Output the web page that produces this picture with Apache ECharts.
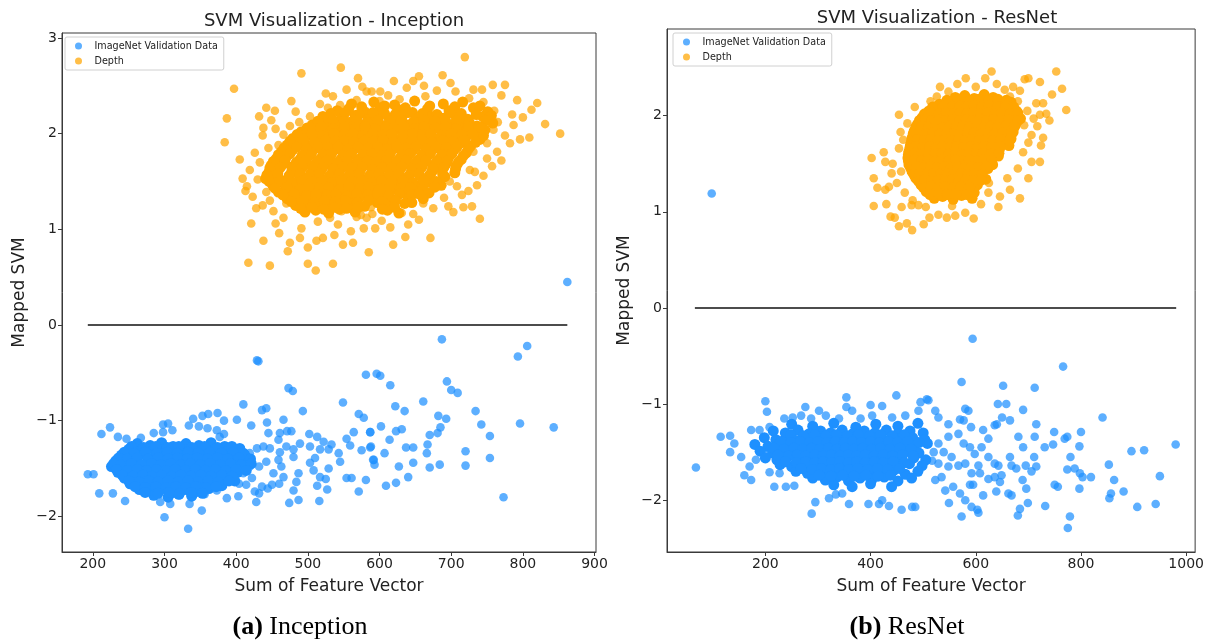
<!DOCTYPE html>
<html>
<head>
<meta charset="utf-8">
<script src="https://cdn.jsdelivr.net/npm/echarts@6/dist/echarts.min.js"></script>
<style>
  html, body { margin: 0; padding: 0; background: #fff; }
  #chart { width: 1207px; height: 642px; }
</style>
</head>
<body>
<div id="chart"></div>
<script>
// ---- Inception: sum of feature vector vs mapped SVM score ----
const inceptionDepthSparse = [
  [397,2.47],[387,2.16],[384,1.91],[491,2.63],[546,2.69],[719,2.80],[831,2.10],[852,2.00],[809,1.96],[796,1.94],
  [787,2.09],[792,2.35],[775,2.51],[758,2.51],[743,2.46],[731,2.46],[699,2.53],[688,2.61],[655,2.60],[647,2.55],
  [638,2.48],[612,2.40],[601,2.44],[589,2.44],[582,2.44],[576,2.49],[568,2.35],[554,2.46],[535,2.39],[525,2.42],
  [528,2.27],[503,2.18],[483,2.23],[454,2.24],[442,2.27],[432,2.18],[449,2.14],[438,2.06],[466,1.99],[475,2.08],
  [488,2.12],[759,2.04],[782,1.90],[750,1.90],[764,1.81],[750,1.74],[731,1.81],[726,1.62],[733,1.60],[736,1.46],
  [724,1.40],[740,1.11],[717,1.23],[729,1.24],[703,1.18],[696,1.24],[708,1.45],[698,1.50],[675,1.22],[671,0.91],
  [636,0.92],[619,0.84],[631,1.17],[647,1.16],[661,1.27],[610,1.29],[603,1.09],[594,1.01],[578,1.01],[585,0.76],
  [563,0.86],[549,0.84],[535,0.64],[521,0.91],[512,0.88],[500,0.81],[511,0.57],[500,0.64],[472,0.77],[475,0.86],
  [489,0.91],[491,1.01],[447,0.62],[417,0.65],[438,0.88],[421,1.06],[428,1.22],[423,1.34],[409,1.53],[419,1.62],
  [433,1.70],[442,1.39],[459,1.88],[482,1.88],[514,1.08],[542,1.05],[568,1.13],[466,1.12],[452,1.19],[470,1.27],
  [493,1.19],[531,1.12],[547,1.19],[572,1.24],[580,1.27],[588,1.23],[590,1.16],[582,1.12],[574,1.15],
  [415,1.45],[430,1.52],[437,1.25],[447,1.30],[426,1.80],[445,1.85],[437,1.98],[455,2.05],[462,1.67],[770,2.40],
  [760,2.24],[745,2.33],[725,2.37],[706,2.44],[680,2.45],[664,2.39],[628,2.36],[620,2.55],[662,2.50],[600,2.34],
  [545,2.30],[570,2.58],[517,2.31],[477,2.34],[405,1.73],[413,1.40],[460,0.96],[455,1.06],[537,0.94],[560,0.98],
  [615,1.02],[640,1.05],[655,1.10],[690,1.33],[715,1.36],[745,1.56],[757,1.66],[775,1.98],[800,2.17],[812,2.25],
  [820,2.32],[765,2.12],[785,2.20],[770,1.72],[742,1.97]
];
const inceptionDepthDense = [
  [561,2.31],[592,2.33],[621,2.30],[649,2.34],[689,2.31],[716,2.33],
  [541,2.24],[557,2.26],[579,2.23],[601,2.27],[627,2.25],[646,2.22],[667,2.26],[697,2.24],[731,2.27],[751,2.23],
  [521,2.18],[547,2.16],[566,2.19],[584,2.15],[598,2.18],[613,2.16],[632,2.19],[651,2.15],[671,2.18],[689,2.16],[706,2.19],[723,2.15],[744,2.18],
  [506,2.09],[527,2.11],[542,2.08],[559,2.12],[576,2.09],[591,2.11],[605,2.08],[623,2.12],[639,2.09],[656,2.11],[669,2.08],[685,2.12],[699,2.09],[714,2.11],[736,2.08],[758,2.11],
  [491,2.02],[513,2.04],[529,2.01],[546,2.05],[558,2.02],[572,2.04],[584,2.01],[600,2.05],[612,2.02],[629,2.04],[642,2.01],[655,2.05],[672,2.02],[686,2.04],[701,2.01],[717,2.05],[733,2.02],[747,2.04],
  [479,1.95],[497,1.97],[516,1.94],[528,1.98],[544,1.95],[555,1.97],[570,1.94],[582,1.98],[598,1.95],[609,1.97],[625,1.94],[636,1.98],[652,1.95],[663,1.97],[679,1.94],[692,1.98],[709,1.95],[721,1.97],[740,1.94],
  [471,1.88],[489,1.90],[502,1.87],[521,1.91],[532,1.88],[548,1.90],[559,1.87],[575,1.91],[587,1.88],[602,1.90],[613,1.87],[629,1.91],[640,1.88],[656,1.90],[668,1.87],[684,1.91],[696,1.88],[713,1.90],[727,1.87],
  [463,1.81],[479,1.83],[496,1.80],[509,1.84],[525,1.81],[537,1.83],[553,1.80],[565,1.84],[580,1.81],[592,1.83],[607,1.80],[619,1.84],[635,1.81],[647,1.83],[663,1.80],[675,1.84],[691,1.81],[704,1.83],[721,1.80],
  [456,1.74],[470,1.76],[489,1.73],[501,1.77],[518,1.74],[530,1.76],[546,1.73],[557,1.77],[573,1.74],[585,1.76],[600,1.73],[612,1.77],[628,1.74],[639,1.76],[655,1.73],[667,1.77],[684,1.74],[697,1.76],[714,1.73],
  [449,1.67],[467,1.69],[480,1.66],[497,1.70],[509,1.67],[525,1.69],[537,1.66],[552,1.70],[564,1.67],[580,1.69],[592,1.66],[607,1.70],[619,1.67],[635,1.69],[647,1.66],[662,1.70],[675,1.67],[693,1.69],[707,1.66],
  [446,1.60],[459,1.62],[477,1.59],[490,1.63],[506,1.60],[518,1.62],[534,1.59],[545,1.63],[561,1.60],[573,1.62],[589,1.59],[601,1.63],[616,1.60],[628,1.62],[644,1.59],[656,1.63],[673,1.60],[687,1.62],[705,1.59],
  [441,1.53],[457,1.55],[471,1.52],[488,1.56],[500,1.53],[515,1.55],[527,1.52],[543,1.56],[555,1.53],[571,1.55],[583,1.52],[598,1.56],[610,1.53],[627,1.55],[639,1.52],[656,1.56],[671,1.53],[691,1.55],
  [451,1.46],[467,1.48],[485,1.45],[496,1.49],[512,1.46],[524,1.48],[540,1.45],[552,1.49],[568,1.46],[580,1.48],[596,1.45],[608,1.49],[624,1.46],[637,1.48],[654,1.45],[667,1.49],[686,1.46],
  [459,1.39],[475,1.41],[493,1.38],[505,1.42],[521,1.39],[533,1.41],[549,1.38],[562,1.42],[578,1.39],[590,1.41],[606,1.38],[619,1.42],[637,1.39],[649,1.41],[669,1.38],
  [471,1.32],[487,1.34],[504,1.31],[516,1.35],[532,1.32],[544,1.34],[561,1.31],[574,1.35],[591,1.32],[604,1.34],[622,1.31],[639,1.35],[661,1.32],
  [483,1.25],[499,1.27],[516,1.24],[529,1.28],[547,1.25],[561,1.27],[579,1.24],[597,1.28],[616,1.25],[635,1.27],
  [496,1.18],[511,1.20],[529,1.17],[544,1.21],[566,1.18],[611,1.20],[627,1.17],
  [575,2.28],[607,2.29],[636,2.27],[670,2.29],[705,2.28],[740,2.29],
  [532,2.21],[552,2.22],[571,2.20],[591,2.22],[607,2.21],[622,2.20],[640,2.22],[660,2.21],[680,2.20],[698,2.22],[714,2.21],[735,2.20],[756,2.19],
  [514,2.13],[535,2.14],[551,2.13],[568,2.14],[583,2.12],[598,2.14],[615,2.13],[631,2.14],[647,2.12],[662,2.14],[677,2.13],[692,2.14],[707,2.13],[725,2.12],[748,2.14],
  [499,2.06],[519,2.07],[535,2.05],[551,2.07],[566,2.06],[580,2.07],[594,2.05],[609,2.07],[620,2.06],[634,2.07],[648,2.05],[662,2.07],[678,2.06],[692,2.07],[707,2.05],[724,2.07],[742,2.06],
  [485,1.99],[505,2.00],[521,1.98],[537,2.00],[551,1.99],[563,2.00],[577,1.98],[591,2.00],[605,1.99],[617,2.00],[633,1.98],[646,2.00],[660,1.99],[671,2.00],[686,1.98],[700,2.00],[715,1.99],[730,2.00],[745,1.98],
  [475,1.92],[493,1.93],[509,1.91],[524,1.93],[538,1.92],[551,1.93],[564,1.91],[579,1.93],[591,1.92],[605,1.93],[619,1.91],[633,1.93],[645,1.92],[660,1.93],[673,1.91],[688,1.93],[702,1.92],[718,1.93],[734,1.91],
  [467,1.85],[484,1.86],[498,1.84],[514,1.86],[528,1.85],[542,1.86],[556,1.84],[570,1.86],[584,1.85],[597,1.86],[610,1.84],[624,1.86],[637,1.85],[651,1.86],[665,1.84],[679,1.86],[693,1.85],[708,1.86],[724,1.84],
  [459,1.78],[475,1.79],[492,1.77],[505,1.79],[521,1.78],[533,1.79],[549,1.77],[561,1.79],[577,1.78],[589,1.79],[603,1.77],[615,1.79],[631,1.78],[643,1.79],[659,1.77],[671,1.79],[687,1.78],[701,1.79],[717,1.77],
  [452,1.71],[468,1.72],[484,1.70],[498,1.72],[513,1.71],[527,1.72],[541,1.70],[555,1.72],[569,1.71],[583,1.72],[596,1.70],[610,1.72],[624,1.71],[637,1.72],[651,1.70],[665,1.72],[680,1.71],[695,1.72],[710,1.70],
  [447,1.64],[462,1.65],[478,1.63],[493,1.65],[507,1.64],[521,1.65],[535,1.63],[549,1.65],[562,1.64],[576,1.65],[590,1.63],[604,1.65],[617,1.64],[631,1.65],[645,1.63],[659,1.65],[674,1.64],[690,1.65],[706,1.63],
  [443,1.57],[458,1.58],[474,1.56],[489,1.58],[503,1.57],[516,1.58],[530,1.56],[544,1.58],[558,1.57],[572,1.58],[586,1.56],[599,1.58],[613,1.57],[627,1.58],[641,1.56],[655,1.58],[670,1.57],[688,1.58],
  [446,1.50],[462,1.51],[478,1.49],[492,1.51],[506,1.50],[520,1.51],[533,1.49],[547,1.51],[561,1.50],[575,1.51],[589,1.49],[603,1.51],[617,1.50],[632,1.51],[646,1.49],[662,1.51],[679,1.50],
  [454,1.43],[471,1.44],[489,1.42],[501,1.44],[516,1.43],[529,1.44],[545,1.42],[557,1.44],[573,1.43],[585,1.44],[601,1.42],[614,1.44],[630,1.43],[643,1.44],[660,1.42],[677,1.44],
  [465,1.36],[481,1.37],[498,1.35],[511,1.37],[527,1.36],[539,1.37],[555,1.35],[568,1.37],[584,1.36],[597,1.37],[613,1.35],[628,1.37],[645,1.36],[655,1.37],
  [477,1.29],[494,1.30],[510,1.28],[523,1.30],[539,1.29],[553,1.30],[569,1.28],[585,1.30],[604,1.29],[622,1.30],[645,1.28],
  [490,1.22],[506,1.23],[522,1.21],[537,1.23],[554,1.22],[570,1.23],[604,1.21],[621,1.23]
];
const inceptionImageNetSparse = [
  [862,0.45],[687,-0.15],[806,-0.22],[793,-0.33],[429,-0.37],[431,-0.38],
  [473,-0.66],[479,-0.69],[581,-0.52],[596,-0.51],[601,-0.53],[615,-0.63],[694,-0.59],[700,-0.68],[709,-0.71],[661,-0.80],
  [622,-0.85],[635,-0.90],[734,-0.90],[742,-1.04],[796,-1.03],[843,-1.07],[682,-0.95],[693,-0.98],[685,-1.07],[681,-1.13],
  [670,-1.15],[602,-1.06],[623,-1.11],[631,-1.09],[614,-1.20],[587,-1.12],[587,-1.28],[592,-1.41],[593,-1.46],[607,-1.34],
  [637,-1.28],[647,-1.28],[667,-1.25],[666,-1.34],[754,-1.16],[720,-1.32],[754,-1.39],[627,-1.48],[647,-1.44],[670,-1.49],
  [684,-1.46],[720,-1.47],[640,-1.59],[623,-1.65],[609,-1.68],[773,-1.80],
  [410,-0.83],[436,-0.89],[442,-0.87],[493,-0.90],[549,-0.81],[571,-0.93],[578,-0.97],[340,-0.98],[353,-0.95],[361,-0.93],
  [374,-0.92],[383,-1.00],[401,-0.99],[298,-1.04],[305,-1.03],[224,-1.07],[212,-1.14],[235,-1.17],[247,-1.19],[267,-1.18],
  [285,-1.13],[298,-1.12],[311,-1.10],[334,-1.05],[348,-1.06],[360,-1.08],[373,-1.10],[377,-1.17],[383,-1.14],[421,-1.05],
  [443,-1.02],[466,-0.99],[477,-1.11],[471,-1.11],[445,-1.13],[461,-1.13],[459,-1.20],[502,-1.14],[513,-1.17],[522,-1.22],
  [533,-1.25],[554,-1.19],[564,-1.12],[587,-1.12],[489,-1.24],[480,-1.30],[503,-1.27],[517,-1.30],[529,-1.30],[543,-1.34],
  [559,-1.26],[575,-1.31],[588,-1.27],[591,-1.41],[581,-1.62],[571,-1.74],[554,-1.60],[561,-1.60],[545,-1.43],[529,-1.50],
  [517,-1.59],[508,-1.52],[503,-1.44],[510,-1.39],[525,-1.61],[513,-1.68],[527,-1.72],[487,-1.83],[474,-1.86],[516,-1.84],
  [480,-1.73],[484,-1.64],[487,-1.55],[466,-1.59],[460,-1.66],[450,-1.67],[444,-1.71],[436,-1.69],[452,-1.55],[463,-1.48],
  [459,-1.41],[442,-1.43],[432,-1.48],[419,-1.48],[426,-1.74],[428,-1.85],[432,-1.76],[422,-1.60],[414,-1.67],[404,-1.66],
  [410,-1.55],[400,-1.53],[401,-1.44],[410,-1.36],[419,-1.34],[429,-1.29],[438,-1.27],[447,-1.29],[461,-1.33],[470,-1.27],
  [480,-1.38],[300,-2.01],[333,-2.13],[352,-1.94],[209,-1.76],[245,-1.84],[193,-1.56],[201,-1.56],[228,-1.76],[294,-1.85],
  [308,-1.87],[321,-1.78],[356,-1.77],[373,-1.73],[387,-1.81],[403,-1.79],[335,-1.87]
];
const inceptionImageNetDense = [
  [262,-1.24],[280,-1.26],[296,-1.23],[312,-1.27],[330,-1.24],[348,-1.26],[365,-1.23],[384,-1.27],
  [250,-1.30],[266,-1.32],[281,-1.29],[297,-1.33],[311,-1.30],[326,-1.32],[340,-1.29],[356,-1.33],[371,-1.30],[388,-1.32],[405,-1.29],
  [240,-1.36],[255,-1.38],[270,-1.35],[284,-1.39],[298,-1.36],[312,-1.38],[325,-1.35],[339,-1.39],[353,-1.36],[367,-1.38],[381,-1.35],[396,-1.39],[412,-1.36],
  [232,-1.42],[247,-1.44],[261,-1.41],[275,-1.45],[289,-1.42],[302,-1.44],[316,-1.41],[329,-1.45],[343,-1.42],[357,-1.44],[371,-1.41],[385,-1.45],[400,-1.42],[415,-1.44],
  [226,-1.48],[241,-1.50],[255,-1.47],[269,-1.51],[282,-1.48],[296,-1.50],[309,-1.47],[322,-1.51],[336,-1.48],[350,-1.50],[364,-1.47],[378,-1.51],[393,-1.48],[408,-1.50],
  [235,-1.54],[249,-1.56],[263,-1.53],[277,-1.57],[290,-1.54],[303,-1.56],[316,-1.53],[330,-1.57],[344,-1.54],[358,-1.56],[372,-1.53],[387,-1.57],[402,-1.54],
  [244,-1.60],[258,-1.62],[271,-1.59],[285,-1.63],[298,-1.60],[312,-1.62],[326,-1.59],[340,-1.63],[354,-1.60],[368,-1.62],[383,-1.59],[398,-1.63],
  [252,-1.66],[266,-1.68],[280,-1.65],[294,-1.69],[308,-1.66],[322,-1.68],[336,-1.65],[350,-1.69],[365,-1.66],[380,-1.68],
  [265,-1.72],[282,-1.74],[298,-1.71],[313,-1.75],[328,-1.72],[345,-1.74],[362,-1.71],
  [285,-1.78],[305,-1.80],[320,-1.77],[338,-1.79],
  [254,-1.27],[271,-1.28],[288,-1.27],[304,-1.28],[320,-1.27],[338,-1.28],[356,-1.27],[374,-1.28],[394,-1.27],
  [244,-1.33],[258,-1.34],[273,-1.33],[289,-1.34],[304,-1.33],[318,-1.34],[333,-1.33],[347,-1.34],[363,-1.33],[379,-1.34],[396,-1.33],[410,-1.34],
  [236,-1.39],[248,-1.40],[262,-1.39],[277,-1.40],[291,-1.39],[305,-1.40],[318,-1.39],[332,-1.40],[346,-1.39],[360,-1.40],[374,-1.39],[388,-1.40],[404,-1.39],[420,-1.40],
  [229,-1.45],[239,-1.46],[254,-1.45],[268,-1.46],[282,-1.45],[295,-1.46],[309,-1.45],[323,-1.46],[336,-1.45],[350,-1.46],[364,-1.45],[378,-1.46],[392,-1.45],[407,-1.46],[421,-1.45],
  [233,-1.51],[248,-1.52],[262,-1.51],[275,-1.52],[289,-1.51],[302,-1.52],[315,-1.51],[329,-1.52],[343,-1.51],[357,-1.52],[371,-1.51],[385,-1.52],[400,-1.51],[414,-1.52],
  [241,-1.57],[256,-1.58],[270,-1.57],[283,-1.58],[296,-1.57],[310,-1.58],[323,-1.57],[337,-1.58],[351,-1.57],[365,-1.58],[380,-1.57],[394,-1.58],
  [250,-1.63],[264,-1.64],[278,-1.63],[291,-1.64],[305,-1.63],[319,-1.64],[333,-1.63],[347,-1.64],[361,-1.63],[375,-1.64],[390,-1.63],
  [259,-1.69],[273,-1.70],[288,-1.69],[302,-1.70],[316,-1.69],[330,-1.70],[344,-1.69],[358,-1.70],[372,-1.69],
  [273,-1.75],[291,-1.76],[306,-1.75],[321,-1.76],[337,-1.75],[353,-1.76]
];

// ---- ResNet: sum of feature vector vs mapped SVM score ----
const resnetDepthSparse = [
  [753,2.46],[764,2.28],[772,2.06],[722,2.35],[700,2.39],[693,2.38],[671,2.30],[684,2.26],[630,2.46],[618,2.39],
  [581,2.39],[532,2.30],[526,2.20],[514,2.15],[484,2.09],[454,2.01],[457,1.83],[454,1.66],[425,1.62],[402,1.56],
  [428,1.52],[442,1.50],[406,1.35],[413,1.25],[428,1.23],[435,1.26],[406,1.06],[438,0.95],[446,0.94],[454,0.85],
  [469,0.88],[479,0.81],[459,1.05],[478,1.07],[491,1.07],[501,0.87],[512,0.94],[529,0.97],[545,0.94],[561,0.96],
  [580,0.99],[596,0.93],[624,1.20],[646,1.16],[643,1.05],[665,1.23],[684,1.14],[700,1.35],[722,1.52],[706,1.52],
  [724,1.69],[728,1.77],[706,1.80],[717,1.89],[692,1.90],[722,2.01],[734,2.02],[728,2.13],[715,2.13],
  [600,2.30],[640,2.33],[655,2.27],[565,2.33],[548,2.25],[500,2.02],[470,1.92],[462,1.75],[440,1.40],[450,1.30],
  [465,1.20],[480,1.12],[505,1.05],[555,1.06],[610,1.08],[625,1.30],[660,1.35],[680,1.45],[690,1.62],[700,1.72],
  [698,2.05],[710,1.97],[680,2.15],[665,2.20],[745,2.22],[740,1.95],[458,1.42],[430,1.08]
];
const resnetDepthDense = [
  [561,2.19],[579,2.21],[597,2.18],[616,2.22],[633,2.19],
  [531,2.12],[547,2.14],[563,2.11],[576,2.15],[589,2.12],[605,2.14],[617,2.11],[634,2.15],[649,2.12],[667,2.14],
  [511,2.05],[523,2.07],[539,2.04],[550,2.08],[565,2.05],[576,2.07],[591,2.04],[602,2.08],[617,2.05],[629,2.07],[645,2.04],[659,2.08],[677,2.05],
  [498,1.98],[509,2.00],[524,1.97],[535,2.01],[550,1.98],[561,2.00],[576,1.97],[587,2.01],[602,1.98],[613,2.00],[628,1.97],[639,2.01],[655,1.98],[667,2.00],[685,1.97],
  [489,1.91],[500,1.93],[515,1.90],[526,1.94],[541,1.91],[552,1.93],[567,1.90],[578,1.94],[593,1.91],[604,1.93],[619,1.90],[630,1.94],[646,1.91],[658,1.93],[675,1.90],
  [483,1.84],[494,1.86],[509,1.83],[520,1.87],[535,1.84],[546,1.86],[561,1.83],[572,1.87],[587,1.84],[598,1.86],[613,1.83],[624,1.87],[640,1.84],[652,1.86],[671,1.83],
  [479,1.77],[490,1.79],[505,1.76],[516,1.80],[531,1.77],[542,1.79],[557,1.76],[568,1.80],[583,1.77],[594,1.79],[609,1.76],[620,1.80],[636,1.77],[649,1.79],[667,1.76],
  [476,1.70],[487,1.72],[502,1.69],[513,1.73],[528,1.70],[539,1.72],[554,1.69],[565,1.73],[580,1.70],[591,1.72],[606,1.69],[617,1.73],[633,1.70],[645,1.72],[663,1.69],
  [473,1.63],[484,1.65],[499,1.62],[510,1.66],[525,1.63],[536,1.65],[551,1.62],[562,1.66],[577,1.63],[588,1.65],[603,1.62],[614,1.66],[630,1.63],[645,1.65],
  [471,1.56],[482,1.58],[497,1.55],[508,1.59],[523,1.56],[534,1.58],[549,1.55],[560,1.59],[575,1.56],[586,1.58],[601,1.55],[612,1.59],[628,1.56],[643,1.58],
  [473,1.49],[484,1.51],[499,1.48],[510,1.52],[525,1.49],[536,1.51],[551,1.48],[562,1.52],[577,1.49],[588,1.51],[603,1.48],[615,1.52],[632,1.49],
  [479,1.42],[490,1.44],[505,1.41],[516,1.45],[531,1.42],[542,1.44],[557,1.41],[568,1.45],[583,1.42],[594,1.44],[609,1.41],[623,1.45],
  [486,1.35],[497,1.37],[512,1.34],[523,1.38],[538,1.35],[549,1.37],[564,1.34],[575,1.38],[590,1.35],[602,1.37],[619,1.34],
  [496,1.28],[507,1.30],[522,1.27],[533,1.31],[548,1.28],[559,1.30],[574,1.27],[586,1.31],[603,1.28],
  [506,1.21],[519,1.23],[536,1.20],[549,1.24],[566,1.21],[579,1.23],[597,1.20],
  [521,1.14],[537,1.16],[557,1.13],[573,1.17],[593,1.14],
  [545,2.16],[570,2.17],[588,2.16],[606,2.17],[625,2.16],[642,2.17],[658,2.16],
  [518,2.09],[539,2.10],[555,2.09],[570,2.10],[583,2.09],[597,2.10],[611,2.09],[625,2.10],[641,2.09],[657,2.10],[672,2.09],
  [503,2.02],[517,2.03],[531,2.02],[544,2.03],[557,2.02],[570,2.03],[583,2.02],[596,2.03],[609,2.02],[622,2.03],[636,2.02],[650,2.03],[665,2.02],[680,2.03],
  [493,1.95],[504,1.96],[517,1.95],[530,1.96],[543,1.95],[556,1.96],[569,1.95],[582,1.96],[595,1.95],[608,1.96],[621,1.95],[634,1.96],[648,1.95],[663,1.96],[680,1.95],
  [486,1.88],[498,1.89],[511,1.88],[524,1.89],[537,1.88],[550,1.89],[563,1.88],[576,1.89],[589,1.88],[602,1.89],[615,1.88],[628,1.89],[642,1.88],[657,1.89],[673,1.88],
  [481,1.81],[493,1.82],[506,1.81],[519,1.82],[532,1.81],[545,1.82],[558,1.81],[571,1.82],[584,1.81],[597,1.82],[610,1.81],[623,1.82],[637,1.81],[651,1.82],[668,1.81],
  [478,1.74],[489,1.75],[502,1.74],[515,1.75],[528,1.74],[541,1.75],[554,1.74],[567,1.75],[580,1.74],[593,1.75],[606,1.74],[619,1.75],[633,1.74],[648,1.75],[664,1.74],
  [475,1.67],[486,1.68],[499,1.67],[512,1.68],[525,1.67],[538,1.68],[551,1.67],[564,1.68],[577,1.67],[590,1.68],[603,1.67],[616,1.68],[630,1.67],[646,1.68],
  [472,1.60],[484,1.61],[497,1.60],[510,1.61],[523,1.60],[536,1.61],[549,1.60],[562,1.61],[575,1.60],[588,1.61],[601,1.60],[614,1.61],[629,1.60],[644,1.61],
  [472,1.53],[484,1.54],[497,1.53],[510,1.54],[523,1.53],[536,1.54],[549,1.53],[562,1.54],[575,1.53],[588,1.54],[601,1.53],[614,1.54],[630,1.53],
  [476,1.46],[488,1.47],[501,1.46],[514,1.47],[527,1.46],[540,1.47],[553,1.46],[566,1.47],[579,1.46],[592,1.47],[605,1.46],[620,1.47],
  [482,1.39],[494,1.40],[507,1.39],[520,1.40],[533,1.39],[546,1.40],[559,1.39],[572,1.40],[585,1.39],[598,1.40],[612,1.39],
  [491,1.32],[503,1.33],[516,1.32],[529,1.33],[542,1.32],[555,1.33],[568,1.32],[581,1.33],[595,1.32],[610,1.33],
  [501,1.25],[514,1.26],[528,1.25],[542,1.26],[557,1.25],[572,1.26],[588,1.25],
  [513,1.18],[529,1.19],[546,1.18],[562,1.19],[583,1.18]
];
const resnetImageNetSparse = [
  [98,1.19],[594,-0.32],[68,-1.66],[980,-1.42],
  [115,-1.34],[133,-1.33],[133,-1.50],[200,-0.97],[203,-1.08],[160,-1.74],[173,-1.79],[217,-1.86],[239,-1.86],[255,-1.85],
  [288,-2.14],[295,-2.02],[321,-1.98],[334,-1.94],[346,-1.93],[359,-2.04],[396,-2.04],[416,-2.04],[422,-2.00],[435,-2.06],
  [459,-2.10],[479,-2.07],[485,-2.07],[354,-0.93],[354,-1.03],[276,-1.03],[302,-1.07],[400,-1.01],[422,-1.02],[449,-0.91],
  [495,-0.98],[507,-0.95],[236,-1.15],[252,-1.14],[268,-1.12],[287,-1.15],[315,-1.12],[340,-1.15],[365,-1.07],[381,-1.15],
  [403,-1.12],[441,-1.14],[466,-1.12],[491,-1.07],[173,-1.27],[189,-1.27],[208,-1.24],[141,-1.41],[154,-1.55],[170,-1.65],
  [182,-1.58],[208,-1.71],[227,-1.72],[201,-1.52],
  [766,-0.61],[573,-0.77],[652,-0.81],[712,-0.83],[642,-1.00],[658,-1.00],[690,-1.06],[841,-1.14],[896,-1.49],[920,-1.48],
  [950,-1.75],[942,-2.04],[907,-2.07],[854,-1.98],[857,-1.93],[881,-1.91],[863,-1.79],[853,-1.63],[803,-1.76],[819,-1.76],
  [797,-1.88],[798,-1.72],[779,-2.17],[775,-2.29],[732,-2.06],[699,-2.03],[684,-2.09],[680,-2.16],[750,-1.84],[756,-1.86],
  [780,-1.55],[788,-1.67],[774,-1.68],[800,-1.29],[797,-1.44],[749,-1.29],[769,-1.36],[774,-1.34],[731,-1.45],[747,-1.42],
  [715,-1.21],[712,-1.34],[711,-1.55],[715,-1.65],[706,-1.70],[695,-1.64],[696,-1.88],[690,-1.45],[681,-1.34],[689,-1.79],
  [665,-1.17],[650,-1.14],[640,-1.21],[636,-1.22],[614,-1.27],[624,-1.36],[591,-1.24],[577,-1.17],[570,-1.16],[580,-1.05],
  [586,-1.07],[529,-1.14],[523,-1.07],[510,-0.96],[548,-1.21],[549,-2.03],[573,-2.17],[580,-2.00],[592,-2.07],[603,-2.10],
  [605,-2.13],[614,-1.95],[639,-1.91],[646,-1.81],[662,-1.93],[668,-1.95],[636,-1.76],[624,-1.78],[608,-1.72],[595,-1.84],
  [649,-1.74],[668,-1.64],[665,-1.55],[677,-1.67],[643,-1.64],[636,-1.62],[624,-1.55],[605,-1.64],[592,-1.72],[580,-1.62],
  [567,-1.64],[554,-1.55],[539,-1.50],[548,-1.65],[535,-1.76],[523,-1.79],[517,-1.59],[529,-1.62],[542,-1.90],[557,-1.86],
  [570,-1.93],[589,-1.84],[577,-1.41],[589,-1.45],[598,-1.52],[611,-1.45],[567,-1.31],[548,-1.34],[529,-1.41],[520,-1.50]
];
const resnetImageNetDense = [
  [250,-1.21],[290,-1.23],[330,-1.20],[372,-1.24],[410,-1.21],[452,-1.23],[490,-1.20],
  [215,-1.28],[238,-1.30],[262,-1.27],[283,-1.31],[305,-1.28],[324,-1.30],[346,-1.27],[366,-1.31],[388,-1.28],[408,-1.30],[430,-1.27],[452,-1.31],[475,-1.28],[500,-1.30],
  [198,-1.35],[220,-1.37],[240,-1.34],[258,-1.38],[275,-1.35],[292,-1.37],[308,-1.34],[325,-1.38],[341,-1.35],[358,-1.37],[374,-1.34],[391,-1.38],[408,-1.35],[425,-1.37],[442,-1.34],[460,-1.38],[480,-1.35],[503,-1.37],
  [180,-1.42],[205,-1.44],[226,-1.41],[245,-1.45],[262,-1.42],[279,-1.44],[296,-1.41],[312,-1.45],[328,-1.42],[344,-1.44],[360,-1.41],[377,-1.45],[393,-1.42],[410,-1.44],[427,-1.41],[444,-1.45],[462,-1.42],[483,-1.44],[508,-1.41],
  [190,-1.49],[214,-1.51],[234,-1.48],[252,-1.52],[269,-1.49],[285,-1.51],[302,-1.48],[318,-1.52],[334,-1.49],[350,-1.51],[366,-1.48],[382,-1.52],[398,-1.49],[415,-1.51],[432,-1.48],[450,-1.52],[470,-1.49],[492,-1.51],
  [200,-1.56],[222,-1.58],[242,-1.55],[260,-1.59],[277,-1.56],[293,-1.58],[309,-1.55],[325,-1.59],[341,-1.56],[357,-1.58],[373,-1.55],[389,-1.59],[405,-1.56],[422,-1.58],[440,-1.55],[460,-1.59],[482,-1.56],[505,-1.58],
  [228,-1.63],[250,-1.65],[269,-1.62],[286,-1.66],[302,-1.63],[318,-1.65],[334,-1.62],[350,-1.66],[366,-1.63],[382,-1.65],[398,-1.62],[415,-1.66],[433,-1.63],[452,-1.65],[474,-1.62],[498,-1.64],
  [258,-1.70],[280,-1.72],[298,-1.69],[316,-1.73],[333,-1.70],[350,-1.72],[368,-1.69],[386,-1.73],[404,-1.70],[423,-1.72],[444,-1.69],[466,-1.73],[490,-1.70],
  [290,-1.77],[314,-1.79],[336,-1.76],[358,-1.80],[380,-1.77],[402,-1.79],[426,-1.76],[452,-1.80],[478,-1.77],
  [330,-1.84],[365,-1.86],[400,-1.83],[440,-1.86],
  [248,-1.32],[272,-1.33],[294,-1.32],[315,-1.33],[335,-1.32],[356,-1.33],[377,-1.32],[398,-1.33],[419,-1.32],[441,-1.33],[464,-1.32],
  [230,-1.39],[249,-1.40],[267,-1.39],[284,-1.40],[300,-1.39],[317,-1.40],[333,-1.39],[350,-1.40],[366,-1.39],[383,-1.40],[400,-1.39],[417,-1.40],[434,-1.39],[451,-1.40],[470,-1.39],[492,-1.40],
  [216,-1.46],[236,-1.47],[254,-1.46],[271,-1.47],[288,-1.46],[304,-1.47],[320,-1.46],[336,-1.47],[352,-1.46],[368,-1.47],[385,-1.46],[402,-1.47],[419,-1.46],[437,-1.47],[456,-1.46],[477,-1.47],
  [224,-1.53],[244,-1.54],[261,-1.53],[277,-1.54],[294,-1.53],[310,-1.54],[326,-1.53],[342,-1.54],[358,-1.53],[374,-1.54],[390,-1.53],[407,-1.54],[424,-1.53],[442,-1.54],[461,-1.53],[481,-1.54],
  [238,-1.60],[259,-1.61],[277,-1.60],[294,-1.61],[310,-1.60],[326,-1.61],[342,-1.60],[358,-1.61],[374,-1.60],[390,-1.61],[407,-1.60],[424,-1.61],[443,-1.60],[464,-1.61],
  [268,-1.67],[289,-1.68],[307,-1.67],[324,-1.68],[341,-1.67],[358,-1.68],[376,-1.67],[394,-1.68],[413,-1.67],[433,-1.68],[455,-1.67],
  [302,-1.74],[325,-1.75],[347,-1.74],[369,-1.75],[391,-1.74],[414,-1.75],[438,-1.74]
];

// decision boundary (SVM = 0), spanning the data's x-range
const inceptionBoundary = [[193, 0], [862, 0]];
const resnetBoundary = [[66, 0], [981, 0]];

// axis tick values
const inceptionXTicks = [200, 300, 400, 500, 600, 700, 800, 900];
const inceptionYTicks = [-2, -1, 0, 1, 2, 3];
const resnetXTicks = [200, 400, 600, 800, 1000];
const resnetYTicks = [-2, -1, 0, 1, 2];

const SERIES_NAMES = ['ImageNet Validation Data', 'Depth'];
const BLUE = '#1e90ff';
const ORANGE = '#ffa500';
const FONT = 'DejaVu Sans';
const TEXT = '#222';
const AXIS = '#3a3a3a';
const DOT = 8.6;       // single points
const CORE_DOT = 11;   // packed cluster cores, drawn so they fuse into a solid mass

const minusFmt = v => String(v).replace('-', '\u2212');

function xAxisCfg(gridIndex, min, max, ticks) {
  return {
    type: 'value', gridIndex, min, max,
    name: 'Sum of Feature Vector', nameLocation: 'middle', nameGap: 26,
    nameTextStyle: { fontFamily: FONT, fontSize: 17, color: TEXT },
    axisLine: { show: true, onZero: false, lineStyle: { color: AXIS, width: 1 } },
    axisTick: { show: true, length: 4, customValues: ticks, lineStyle: { color: AXIS } },
    axisLabel: { customValues: ticks, fontFamily: FONT, fontSize: 14, color: TEXT, margin: 5, formatter: minusFmt },
    splitLine: { show: false }
  };
}
function yAxisCfg(gridIndex, min, max, ticks) {
  return {
    type: 'value', gridIndex, min, max,
    name: 'Mapped SVM', nameLocation: 'middle', nameGap: 34, nameRotate: 90,
    nameTextStyle: { fontFamily: FONT, fontSize: 17, color: TEXT },
    axisLine: { show: true, onZero: false, lineStyle: { color: AXIS, width: 1 } },
    axisTick: { show: true, length: 4, customValues: ticks, lineStyle: { color: AXIS } },
    axisLabel: { customValues: ticks, fontFamily: FONT, fontSize: 14, color: TEXT, margin: 5, formatter: minusFmt },
    splitLine: { show: false }
  };
}
// single points are translucent; the packed cluster cores read as solid colour
function scatter(name, xi, data, color, opacity, size) {
  return {
    name, type: 'scatter', xAxisIndex: xi, yAxisIndex: xi, data,
    symbol: 'circle', symbolSize: size,
    itemStyle: { color, opacity, borderWidth: 0, borderColor: 'transparent' },
    silent: true, animation: false
  };
}
function boundary(xi, data) {
  return {
    type: 'line', xAxisIndex: xi, yAxisIndex: xi, data, symbol: 'none',
    lineStyle: { color: '#111', width: 1.6 }, silent: true, animation: false, z: 3
  };
}
function legendCfg(left, top) {
  return {
    left, top, orient: 'vertical', data: SERIES_NAMES, icon: 'circle',
    itemWidth: 22, itemHeight: 7, itemGap: 5, padding: [4, 6, 4, 10],
    borderColor: '#d0d0d0', borderWidth: 1, borderRadius: 2, backgroundColor: '#fff',
    itemStyle: { opacity: 0.72 },
    textStyle: { fontFamily: FONT, fontSize: 9.6, color: TEXT },
    selectedMode: false
  };
}

const chart = echarts.init(document.getElementById('chart'), null, { renderer: 'canvas' });
chart.setOption({
  animation: false,
  backgroundColor: '#fff',
  title: [
    { text: 'SVM Visualization - Inception', left: 329, top: 7, textAlign: 'center',
      textStyle: { fontFamily: FONT, fontSize: 18, fontWeight: 'normal', color: TEXT } },
    { text: 'SVM Visualization - ResNet', left: 932, top: 4, textAlign: 'center',
      textStyle: { fontFamily: FONT, fontSize: 18, fontWeight: 'normal', color: TEXT } }
  ],
  legend: [legendCfg(65, 37), legendCfg(673, 33)],
  grid: [
    { left: 62, top: 33, width: 534, height: 519, show: true, borderColor: AXIS, borderWidth: 1, containLabel: false },
    { left: 667, top: 29, width: 531, height: 523, show: true, borderColor: AXIS, borderWidth: 1, containLabel: false }
  ],
  xAxis: [xAxisCfg(0, 157, 902, inceptionXTicks), xAxisCfg(1, 13, 1017, resnetXTicks)],
  yAxis: [yAxisCfg(0, -2.373, 3.052, inceptionYTicks), yAxisCfg(1, -2.539, 2.902, resnetYTicks)],
  series: [
    scatter(SERIES_NAMES[0], 0, inceptionImageNetSparse, BLUE, 0.72, DOT),
    scatter(SERIES_NAMES[0], 0, inceptionImageNetDense, BLUE, 1, CORE_DOT),
    scatter(SERIES_NAMES[1], 0, inceptionDepthSparse, ORANGE, 0.72, DOT),
    scatter(SERIES_NAMES[1], 0, inceptionDepthDense, ORANGE, 1, CORE_DOT),
    boundary(0, inceptionBoundary),
    scatter(SERIES_NAMES[0], 1, resnetImageNetSparse, BLUE, 0.72, DOT),
    scatter(SERIES_NAMES[0], 1, resnetImageNetDense, BLUE, 1, CORE_DOT),
    scatter(SERIES_NAMES[1], 1, resnetDepthSparse, ORANGE, 0.72, DOT),
    scatter(SERIES_NAMES[1], 1, resnetDepthDense, ORANGE, 1, CORE_DOT),
    boundary(1, resnetBoundary)
  ],
  graphic: [
    { type: 'text', x: 300, y: 627, style: {
        text: '{b|(a)} Inception', align: 'center', verticalAlign: 'middle',
        font: '26px "Liberation Serif"', fill: '#000',
        rich: { b: { fontFamily: 'Liberation Serif', fontSize: 26, fontWeight: 'bold', fill: '#000' } } } },
    { type: 'text', x: 907, y: 627, style: {
        text: '{b|(b)} ResNet', align: 'center', verticalAlign: 'middle',
        font: '26px "Liberation Serif"', fill: '#000',
        rich: { b: { fontFamily: 'Liberation Serif', fontSize: 26, fontWeight: 'bold', fill: '#000' } } } }
  ]
});
</script>
</body>
</html>
